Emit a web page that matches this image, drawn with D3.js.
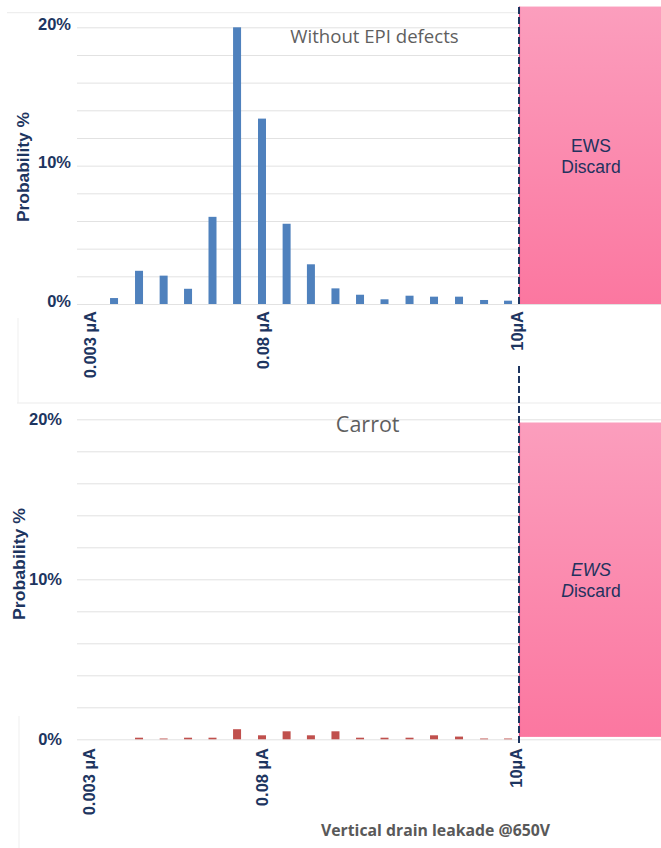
<!DOCTYPE html>
<html>
<head>
<meta charset="utf-8">
<script src="https://cdn.jsdelivr.net/npm/d3@7/dist/d3.min.js"></script>
<style>
  html, body { margin: 0; padding: 0; background: #ffffff; }
  svg { display: block; }
</style>
</head>
<body>
<svg id="chart" width="661" height="848"></svg>
<script>
// Leakage bin centres (µA), log spaced
const leakageBins = [0.00456, 0.00733, 0.0117, 0.0186, 0.0296, 0.0472, 0.0758, 0.121, 0.192, 0.306, 0.488, 0.777, 1.25, 1.99, 3.2, 5.15, 8.12];

// Probability (%) per bin
const withoutEpiValues = [0.43, 2.4, 2.05, 1.1, 6.3, 20, 13.4, 5.8, 2.87, 1.13, 0.67, 0.34, 0.6, 0.53, 0.53, 0.29, 0.24];
const carrotValues     = [0, 0.1, 0.05, 0.1, 0.1, 0.63, 0.25, 0.5, 0.25, 0.5, 0.1, 0.1, 0.1, 0.25, 0.17, 0.05, 0.05];

// Axis ticks
const xTickValues = [0.003, 0.08, 10];
const xTickLabels = ["0.003 µA", "0.08 µA", "10µA"];
const yTickValues = [0, 10, 20];
const yGridValues = [0, 2, 4, 6, 8, 10, 12, 14, 16, 18, 20];

// Texts
const panelTitles = ["Without EPI defects", "Carrot"];
const yAxisTitle = "Probability %";
const xAxisTitle = "Vertical drain leakade @650V";
const discardLimit = 10; // µA

const W = 661;
const navy = "#1d3560";
const svg = d3.select("#chart");

// Gradient for the discard zone
const defs = svg.append("defs");
const grad = defs.append("linearGradient").attr("id", "pinkGrad")
  .attr("x1", 0).attr("y1", 0).attr("x2", 0).attr("y2", 1);
grad.append("stop").attr("offset", "0%").attr("stop-color", "#fb9ebd");
grad.append("stop").attr("offset", "100%").attr("stop-color", "#fb77a0");

const x = d3.scaleLog().domain([0.003, 10]).range([92, 519]);

const panels = [
  {
    values: withoutEpiValues, color: "#4f81bd", title: panelTitles[0],
    yRange: [304, 27.3], titleX: 374.5, titleY: 43.3, titleSize: 18.6,
    yLabelX: 71, yLabelDy: -3, yTitleX: 23.5, yTitleY: 167, yTitleLen: 110,
    frameY: 12.7, frameX0: 7, boxTop: 21.5, boxBottom: 0,
    xLabelEnd: 311, xLabelShift: -2, italic: false,
    ewsY: 151.7
  },
  {
    values: carrotValues, color: "#c0504d", title: panelTitles[1],
    yRange: [739.3, 419.3], titleX: 367.7, titleY: 432, titleSize: 21.5,
    yLabelX: 62, yLabelDy: 0, yTitleX: 19, yTitleY: 564, yTitleLen: 112,
    frameY: 403, frameX0: 17, boxTop: 19.8, boxBottom: 0.15,
    xLabelEnd: 748, xLabelShift: -3, italic: true,
    ewsY: 575.7
  }
];

panels.forEach(p => {
  const y = d3.scaleLinear().domain([0, 20]).range(p.yRange);
  const g = svg.append("g");

  // panel frame top edge
  g.append("line")
    .attr("x1", p.frameX0).attr("x2", W)
    .attr("y1", p.frameY).attr("y2", p.frameY)
    .attr("stroke", "#ebebeb").attr("stroke-width", 1);

  // horizontal gridlines
  const grid = g.append("g")
    .attr("transform", `translate(77,0)`)
    .call(d3.axisLeft(y).tickValues(yGridValues).tickSize(-(W - 77)).tickFormat(""));
  grid.select(".domain").remove();
  grid.selectAll(".tick line").attr("stroke", "#e2e2e2").attr("stroke-width", 1);

  // bars
  const data = leakageBins.map((b, i) => ({ bin: b, v: p.values[i] })).filter(d => d.v > 0);
  g.append("g").selectAll("rect").data(data).join("rect")
    .attr("x", d => x(d.bin) - 4)
    .attr("width", 8)
    .attr("y", d => y(d.v))
    .attr("height", d => y(0) - y(d.v))
    .attr("fill", p.color);

  // discard zone
  const bx = x(discardLimit);
  g.append("rect")
    .attr("x", bx).attr("width", W - bx)
    .attr("y", y(p.boxTop)).attr("height", y(p.boxBottom) - y(p.boxTop))
    .attr("fill", "url(#pinkGrad)");
  g.append("line")
    .attr("x1", bx + 0.5).attr("x2", bx + 0.5)
    .attr("y1", y(p.boxTop)).attr("y2", y(p.boxBottom))
    .attr("stroke", "#ec4d85").attr("stroke-width", 1.2);

  const ews = g.append("text")
    .attr("x", (bx + W) / 2 + 1).attr("y", p.ewsY)
    .attr("text-anchor", "middle")
    .attr("font-family", "Liberation Sans, Arial, sans-serif")
    .attr("font-size", 17.5).attr("fill", "#22325e");
  ews.append("tspan").attr("font-style", p.italic ? "italic" : "normal").text("EWS");
  const dis = g.append("text")
    .attr("x", (bx + W) / 2 + 1).attr("y", p.ewsY + 21)
    .attr("text-anchor", "middle")
    .attr("font-family", "Liberation Sans, Arial, sans-serif")
    .attr("font-size", 17.5).attr("fill", "#22325e");
  dis.append("tspan").attr("font-style", p.italic ? "italic" : "normal").text("D");
  dis.append("tspan").text("iscard");

  // panel title
  g.append("text")
    .attr("x", p.titleX).attr("y", p.titleY)
    .attr("text-anchor", "middle")
    .attr("font-family", "Open Sans, sans-serif")
    .attr("font-size", p.titleSize).attr("fill", "#5f5f5f")
    .text(p.title);

  // y tick labels
  const yAx = g.append("g")
    .attr("transform", `translate(${p.yLabelX},${p.yLabelDy})`)
    .call(d3.axisLeft(y).tickValues(yTickValues).tickSize(0).tickPadding(0).tickFormat(d => d + "%"));
  yAx.select(".domain").remove();
  yAx.selectAll("text")
    .attr("font-family", "Liberation Sans, Arial, sans-serif")
    .attr("font-weight", "bold").attr("font-size", 16.5).attr("fill", navy);

  // y axis title
  g.append("text")
    .attr("transform", `translate(${p.yTitleX},${p.yTitleY}) rotate(-90)`)
    .attr("text-anchor", "middle").attr("dy", "0.35em")
    .attr("font-family", "Liberation Sans, Arial, sans-serif")
    .attr("font-weight", "bold").attr("font-size", 16.5).attr("fill", navy)
    .attr("textLength", p.yTitleLen).attr("lengthAdjust", "spacingAndGlyphs")
    .text(yAxisTitle);

  // x tick labels (rotated)
  const xAx = g.append("g")
    .attr("transform", `translate(${p.xLabelShift},${p.xLabelEnd})`)
    .call(d3.axisBottom(x).tickValues(xTickValues).tickSize(0).tickPadding(0)
      .tickFormat((d, i) => xTickLabels[i]));
  xAx.select(".domain").remove();
  xAx.selectAll("text")
    .attr("transform", "rotate(-90)")
    .attr("x", 0).attr("y", 0).attr("dy", "0.36em")
    .attr("text-anchor", "end")
    .attr("font-family", "Liberation Sans, Arial, sans-serif")
    .attr("font-weight", "bold").attr("font-size", 16.5).attr("fill", navy);
});

// dashed discard limit line
const lx = x(discardLimit);
[[7, 305], [366, 746]].forEach(seg => {
  svg.append("line")
    .attr("x1", lx).attr("x2", lx)
    .attr("y1", seg[0]).attr("y2", seg[1])
    .attr("stroke", navy).attr("stroke-width", 2)
    .attr("stroke-dasharray", "7,3");
});

// faint frame edges on the left
svg.append("line").attr("x1", 18).attr("x2", 18).attr("y1", 318).attr("y2", 403)
  .attr("stroke", "#efefef");
svg.append("line").attr("x1", 19).attr("x2", 19).attr("y1", 716).attr("y2", 848)
  .attr("stroke", "#efefef");

// x axis title
svg.append("text")
  .attr("x", 321).attr("y", 836)
  .attr("font-family", "Open Sans, sans-serif")
  .attr("font-weight", "bold").attr("font-size", 16).attr("fill", "#595959")
  .attr("textLength", 229).attr("lengthAdjust", "spacingAndGlyphs")
  .text(xAxisTitle);
</script>
</body>
</html>
